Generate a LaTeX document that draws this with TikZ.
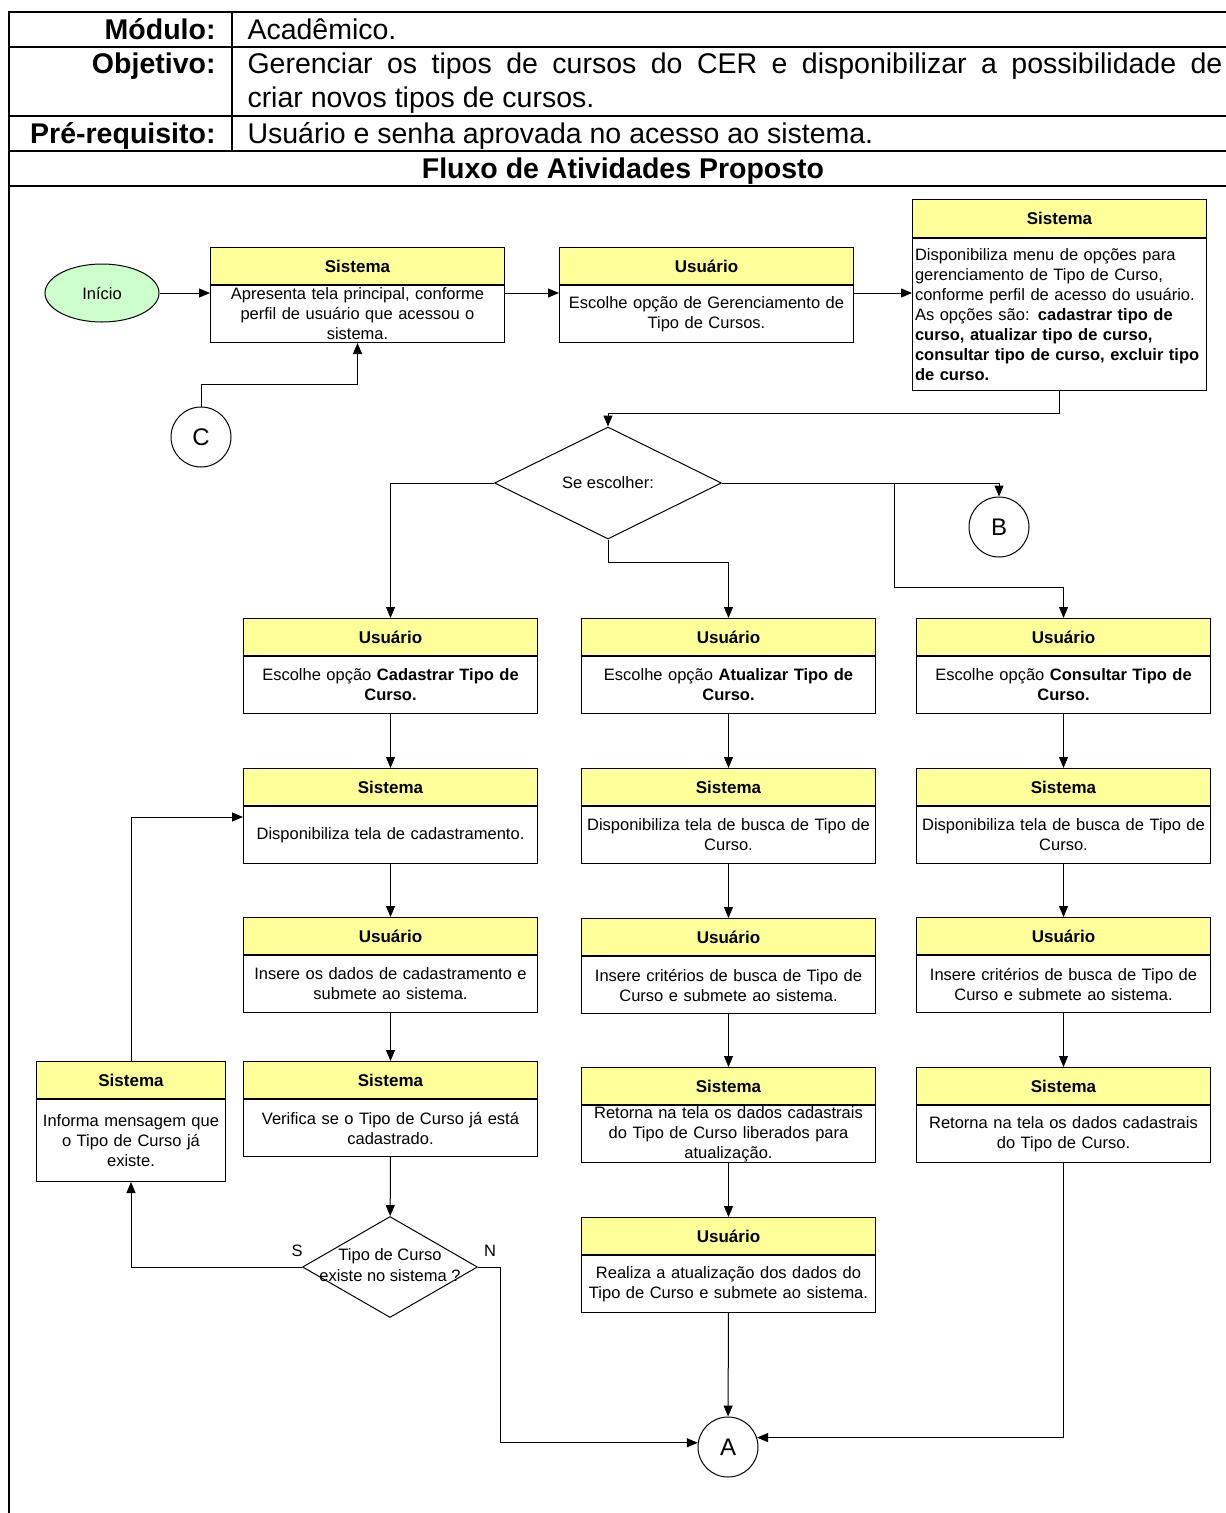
\documentclass[tikz,border=0pt]{standalone}
\usepackage{fontspec}
\setmainfont{Liberation Sans}
\usetikzlibrary{shapes.geometric,arrows.meta}
\definecolor{amarelo}{RGB}{255,255,153}
\definecolor{verde}{RGB}{204,255,204}
\tikzset{
  cab/.style={draw, fill=amarelo, minimum width=294pt, minimum height=37pt, inner sep=0pt,
    anchor=north west, font=\bfseries\fontsize{17}{20}\selectfont},
  corpo/.style={draw, fill=white, minimum width=294pt, text width=288pt, minimum height=57pt,
    inner xsep=3pt, inner ysep=0pt, align=center, anchor=north, font=\fontsize{16.5}{20}\selectfont},
  seta/.style={-{Triangle[length=11pt,width=9pt]}},
  moldura/.style={line width=2pt},
  decisao/.style={diamond, draw, inner sep=0pt, aspect=2, font=\fontsize{16.5}{21}\selectfont},
  conector/.style={circle, draw, minimum size=60pt, inner sep=0pt, font=\fontsize{24}{28}\selectfont},
  inicio/.style={ellipse, draw, fill=verde, minimum width=114pt, minimum height=58pt, inner sep=0pt,
    font=\fontsize{16.5}{20}\selectfont},
  rotulo/.style={inner sep=0pt, font=\fontsize{16.5}{20}\selectfont},
  tabrot/.style={inner sep=0pt, anchor=base east, font=\bfseries\fontsize{28.5}{34}\selectfont},
  tabtxt/.style={inner sep=0pt, anchor=base west, font=\fontsize{28.5}{34}\selectfont}
}
% caixa: nome, canto, opcoes do cabecalho, opcoes do corpo, titulo, texto
\newcommand{\caixa}[6]{%
  \node[cab,#3] (#1-h) at (#2) {#5};
  \node[corpo,#4] (#1) at (#1-h.south) {#6};}

\begin{document}
\begin{tikzpicture}[x=1pt, y=-1pt, line width=1pt]
  \useasboundingbox (0,0) rectangle (1226,1513);
  % tabela do cabecalho
  \draw[moldura] (9,1513) -- (9,12) -- (1226,12);
  \draw[moldura] (9,47) -- (1226,47);
  \draw[moldura] (9,116) -- (1226,116);
  \draw[moldura] (9,151) -- (1226,151);
  \draw[moldura] (9,186) -- (1226,186);
  \draw[moldura] (232,12) -- (232,151);
  \node[tabrot] (modulo) at (216,39) {Módulo:};
  \node[tabtxt] (academico) at (247,39) {Acadêmico.};
  \node[tabrot] (objetivo) at (216,73) {Objetivo:};
  \node[tabtxt] (objetivo1) at (247,73) {\makebox[975pt][s]{Gerenciar os tipos de cursos do CER e disponibilizar a possibilidade de}};
  \node[tabtxt] (objetivo2) at (247,107) {criar novos tipos de cursos.};
  \node[tabrot] (prereq) at (216,143) {Pré-requisito:};
  \node[tabtxt] (prereqtxt) at (247,143) {Usuário e senha aprovada no acesso ao sistema.};
  \node[tabrot, anchor=base] (fluxo) at (623,178) {Fluxo de Atividades Proposto};

  % inicio
  \node[inicio] (inicio) at (102,293) {Início};
  \caixa{s1}{210,247}{}{}{Sistema}{Apresenta tela principal, conforme\\perfil de usuário que acessou o\\sistema.}
  \caixa{u1}{559,247}{}{}{Usuário}{Escolhe opção de Gerenciamento de\\Tipo de Cursos.}
  \caixa{s2}{912,199}{minimum height=38pt}{minimum height=152pt, text width=289pt, inner xsep=2pt, align=left}{Sistema}%
    {Disponibiliza menu de opções para\\gerenciamento de Tipo de Curso,\\conforme perfil de acesso do usuário.\\As opções são: \textbf{cadastrar tipo de}\\\textbf{curso, atualizar tipo de curso,}\\\textbf{consultar tipo de curso, excluir tipo}\\\textbf{de curso.}}
  \node[conector] (c) at (201,437) {C};
  \node[decisao, minimum width=227pt, minimum height=112pt] (d1) at (608,483) {Se escolher:};
  \node[conector] (b) at (999,527) {B};
  \coordinate (ramo) at (894,483);

  % cadastrar
  \caixa{c1u}{243,618}{}{}{Usuário}{Escolhe opção \textbf{Cadastrar Tipo de}\\\textbf{Curso.}}
  \caixa{c1s}{243,768}{}{}{Sistema}{Disponibiliza tela de cadastramento.}
  \caixa{c1i}{243,917}{}{}{Usuário}{Insere os dados de cadastramento e\\submete ao sistema.}
  \caixa{c1v}{243,1061}{}{}{Sistema}{Verifica se o Tipo de Curso já está\\cadastrado.}
  \caixa{inf}{36,1061}{minimum width=189pt}{minimum width=189pt, text width=183pt, minimum height=82pt}{Sistema}%
    {Informa mensagem que\\o Tipo de Curso já\\existe.}
  \node[decisao, minimum width=175pt, minimum height=101pt] (d2) at (390,1267)
    {\makebox[0pt]{\begin{tabular}{@{}c@{}}Tipo de Curso\\existe no sistema ?\end{tabular}}};
  \node[rotulo] (sim) at ([xshift=-5pt,yshift=16pt]d2.west) {S};
  \node[rotulo] (nao) at ([xshift=12pt,yshift=16pt]d2.east) {N};

  % atualizar
  \caixa{c2u}{581,618}{}{}{Usuário}{Escolhe opção \textbf{Atualizar Tipo de}\\\textbf{Curso.}}
  \caixa{c2s}{581,768}{}{}{Sistema}{Disponibiliza tela de busca de Tipo de\\Curso.}
  \caixa{c2i}{581,918}{}{}{Usuário}{Insere critérios de busca de Tipo de\\Curso e submete ao sistema.}
  \caixa{c2r}{581,1067}{}{}{Sistema}{Retorna na tela os dados cadastrais\\do Tipo de Curso liberados para\\atualização.}
  \caixa{c2a}{581,1217}{}{}{Usuário}{Realiza a atualização dos dados do\\Tipo de Curso e submete ao sistema.}

  % consultar
  \caixa{c3u}{916,618}{}{}{Usuário}{Escolhe opção \textbf{Consultar Tipo de}\\\textbf{Curso.}}
  \caixa{c3s}{916,768}{}{}{Sistema}{Disponibiliza tela de busca de Tipo de\\Curso.}
  \caixa{c3i}{916,917}{}{}{Usuário}{Insere critérios de busca de Tipo de\\Curso e submete ao sistema.}
  \caixa{c3r}{916,1067}{}{}{Sistema}{Retorna na tela os dados cadastrais\\do Tipo de Curso.}
  \node[conector] (a) at (728,1447) {A};

  % ligacoes
  \draw[seta] (inicio) -- (inicio -| s1.west);
  \draw[seta] (s1.east |- inicio) -- (u1.west |- inicio);
  \draw[seta] (u1.east |- inicio) -- (s2.west |- inicio);
  \draw[seta] (c.north) -- ++(0,-22) -| (s1.south);
  \draw[seta] (s2.south) -- ++(0,22) -| (d1.north);
  \draw[seta] (d1.west) -| (c1u-h.north);
  \draw[seta] (d1.south) -- ++(0,23) -| (c2u-h.north);
  \draw[seta] (d1.east) -| (b.north);
  \draw[seta] (ramo) -- ++(0,104) -| (c3u-h.north);
  \draw[seta] (c1u) -- (c1s-h);
  \draw[seta] (c1s) -- (c1i-h);
  \draw[seta] (c1i) -- (c1v-h);
  \draw[seta] (c1v) -- (d2);
  \draw[seta] (d2.west) -| (inf.south);
  \draw[seta] (inf-h.north) |- ([yshift=18pt]c1s.west);
  \draw[seta] (d2.east) -- ++(22,0) |- (a.172);
  \draw[seta] (c2u) -- (c2s-h);
  \draw[seta] (c2s) -- (c2i-h);
  \draw[seta] (c2i) -- (c2r-h);
  \draw[seta] (c2r) -- (c2a-h);
  \draw[seta] (c2a) -- (a);
  \draw[seta] (c3u) -- (c3s-h);
  \draw[seta] (c3s) -- (c3i-h);
  \draw[seta] (c3i) -- (c3r-h);
  \draw[seta] (c3r.south) |- (a.18);
\end{tikzpicture}
\end{document}
